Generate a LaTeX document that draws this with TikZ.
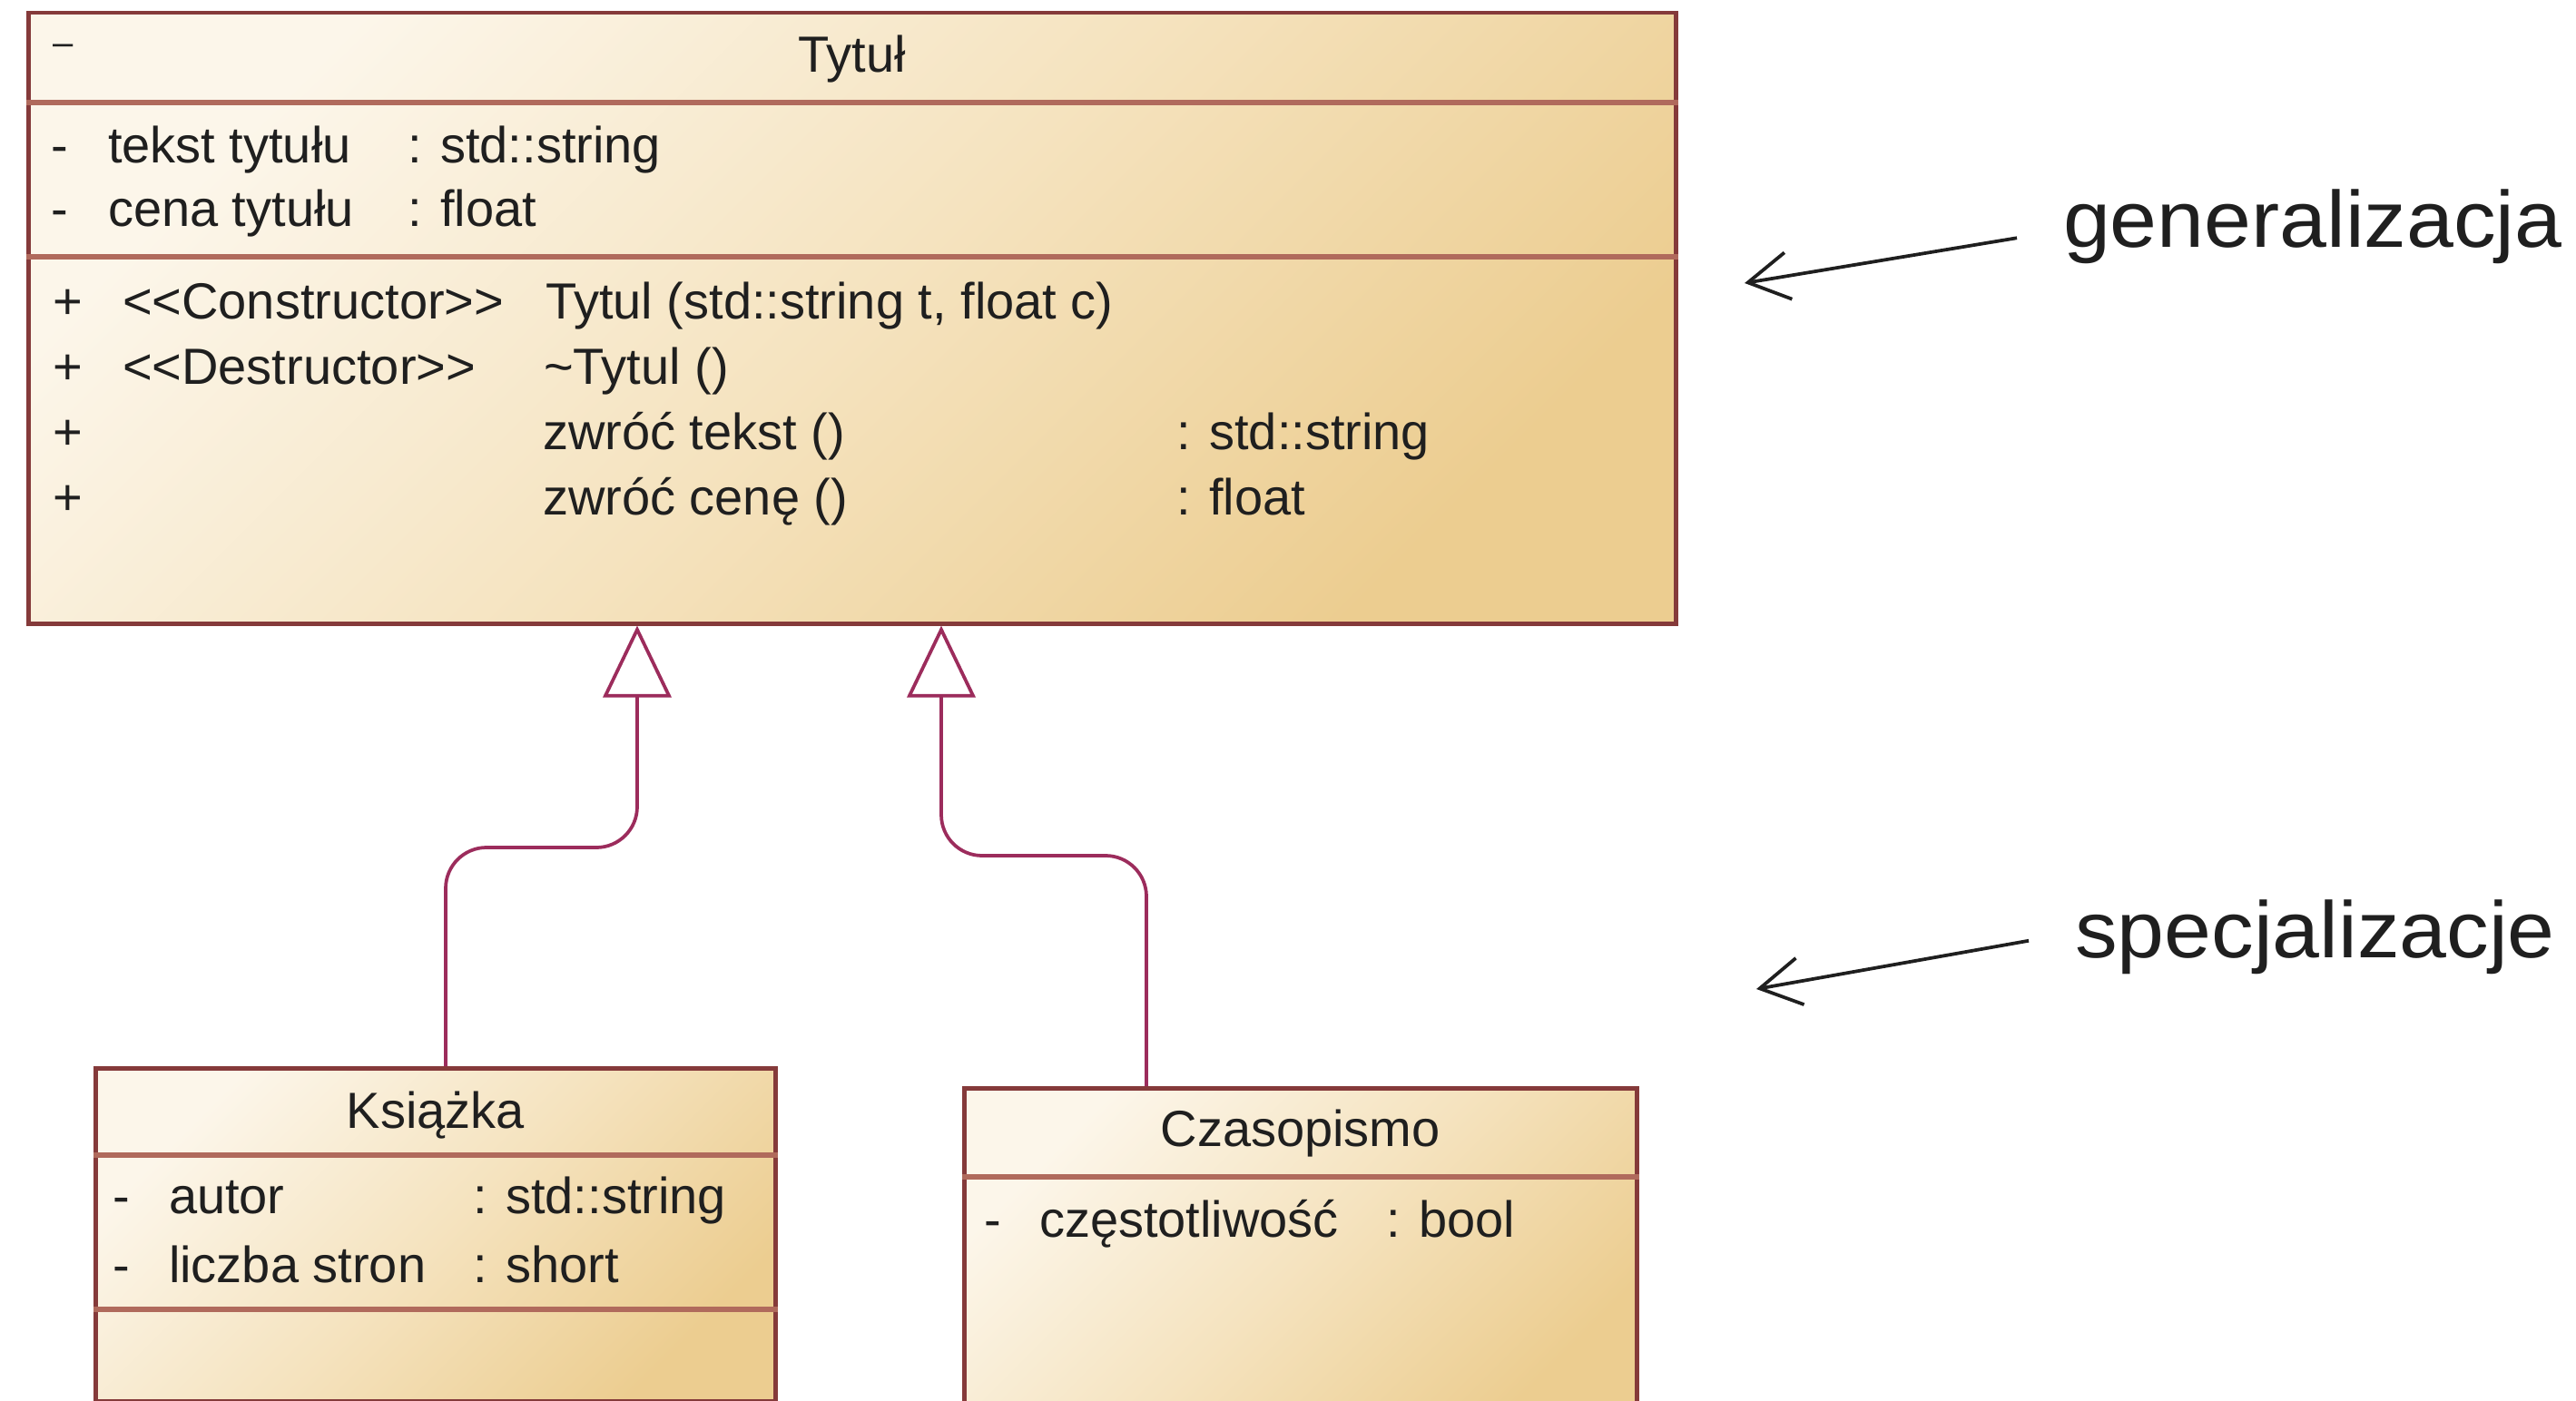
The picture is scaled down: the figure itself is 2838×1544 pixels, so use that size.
\documentclass[tikz,border=0pt]{standalone}
\usepackage{fontspec}
\setmainfont{Liberation Sans}
\newfontfamily\umlfont{Liberation Sans}
\newfontfamily\notefont[FakeStretch=1.06]{Liberation Sans}
\usetikzlibrary{arrows.meta}

\definecolor{umlborder}{HTML}{853A3A}
\definecolor{umlsep}{HTML}{B06A5C}
\definecolor{umllight}{HTML}{FCF6EA}
\definecolor{umlmid}{HTML}{F5E3BF}
\definecolor{umldark}{HTML}{ECCD90}
\definecolor{genlink}{HTML}{9C2C5C}
\definecolor{inktext}{HTML}{1F1F1F}

\begin{document}
\begin{tikzpicture}[x=0.2pt,y=-0.2pt,
  classbox/.style={draw=umlborder, line width=0.9pt, inner sep=0pt, anchor=north west,
    top color=umllight, bottom color=umldark, middle color=umlmid, shading angle=45},
  sepline/.style={draw=umlsep, line width=1.1pt},
  umltext/.style={anchor=base west, inner sep=0pt, text=inktext,
    font={\umlfont\fontsize{11.2}{13}\selectfont}},
  umltitle/.style={umltext, anchor=base},
  genline/.style={draw=genlink, line width=0.75pt, rounded corners=9pt,
    -{Triangle[open, length=15.8pt, width=15pt, fill=white]}},
  notetext/.style={anchor=base west, inner xsep=10pt, inner ysep=0pt, text=inktext,
    font={\notefont\fontsize{17.6}{21}\selectfont}},
  notearrow/.style={draw=inktext, line width=0.75pt,
    -{Straight Barb[length=9pt, width=10.4pt]}}
]
\path[use as bounding box] (0,0) rectangle (2838,1544);
\fill[white] (0,0) rectangle (2838,1544);
\clip (0,0) rectangle (2838,1544);

% ---- class boxes ----
\node[classbox, minimum width=363pt, minimum height=134.6pt] (tytul) at (29,12) {};
\node[classbox, minimum width=149.8pt, minimum height=73.4pt] (ksiazka) at (103,1175) {};
\node[classbox, minimum width=148.2pt, minimum height=76pt] (czasopismo) at (1060,1197) {};

% compartment separators
\draw[sepline] (tytul.west |- 0,113) -- (tytul.east |- 0,113);
\draw[sepline] (tytul.west |- 0,283) -- (tytul.east |- 0,283);
\draw[sepline] (ksiazka.west |- 0,1273) -- (ksiazka.east |- 0,1273);
\draw[sepline] (ksiazka.west |- 0,1443) -- (ksiazka.east |- 0,1443);
\draw[sepline] (czasopismo.west |- 0,1297) -- (czasopismo.east |- 0,1297);

% ---- Tytuł ----
\node[umltext, font={\umlfont\fontsize{8}{10}\selectfont}] (tvis) at (57,61) {\textendash};
\node[umltitle] (tname) at (tytul.north |- 0,80) {Tytuł};

\node[umltext] (ta1v) at (55,180) {-};
\node[umltext] (ta1n) at (118,180) {tekst tytułu};
\node[umltext] (ta1t) at (448,180) {: std::string};
\node[umltext] (ta2v) at (55,250) {-};
\node[umltext] (ta2n) at (118,250) {cena tytułu};
\node[umltext] (ta2t) at (448,250) {: float};

\node[umltext] (tm1v) at (57,352) {+};
\node[umltext] (tm1s) at (134,352) {\textless\textless Constructor\textgreater\textgreater};
\node[umltext] (tm1n) at (600,352) {Tytul (std::string t, float c)};
\node[umltext] (tm2v) at (57,424) {+};
\node[umltext] (tm2s) at (134,424) {\textless\textless Destructor\textgreater\textgreater};
\node[umltext] (tm2n) at (598,424) {\textasciitilde Tytul ()};
\node[umltext] (tm3v) at (57,496) {+};
\node[umltext] (tm3n) at (597,496) {zwróć tekst ()};
\node[umltext] (tm3t) at (1295,496) {: std::string};
\node[umltext] (tm4v) at (57,568) {+};
\node[umltext] (tm4n) at (597,568) {zwróć cenę ()};
\node[umltext] (tm4t) at (1295,568) {: float};

% ---- Książka ----
\node[umltitle] (kname) at (ksiazka.north |- 0,1243) {Książka};
\node[umltext] (ka1v) at (123,1337) {-};
\node[umltext] (ka1n) at (185,1337) {autor};
\node[umltext] (ka1t) at (520,1337) {: std::string};
\node[umltext] (ka2v) at (123,1413) {-};
\node[umltext] (ka2n) at (185,1413) {liczba stron};
\node[umltext] (ka2t) at (520,1413) {: short};

% ---- Czasopismo ----
\node[umltitle] (cname) at (czasopismo.north |- 0,1263) {Czasopismo};
\node[umltext] (ca1v) at (1083,1363) {-};
\node[umltext] (ca1n) at (1144,1363) {częstotliwość};
\node[umltext] (ca1t) at (1526,1363) {: bool};

% ---- generalization links ----
\coordinate (jx1) at (491,0);
\coordinate (jy1) at (0,934);
\coordinate (ax1) at (702,0);
\coordinate (jx2) at (1263,0);
\coordinate (jy2) at (0,943);
\coordinate (ax2) at (1037,0);
\draw[genline] (ksiazka.north -| jx1) |- (ax1 |- jy1) -- (tytul.south -| ax1);
\draw[genline] (czasopismo.north -| jx2) |- (ax2 |- jy2) -- (tytul.south -| ax2);

% ---- side notes ----
\node[notetext] (gen) at (2222,273) {generalizacja};
\coordinate (genTip) at (1922,312);
\draw[notearrow] ([yshift=-2.4pt]gen.west) -- (genTip);

\node[notetext] (spec) at (2235,1055) {specjalizacje};
\coordinate (specTip) at (1935,1090);
\draw[notearrow] ([yshift=-0.9pt]spec.west) -- (specTip);
\end{tikzpicture}
\end{document}
